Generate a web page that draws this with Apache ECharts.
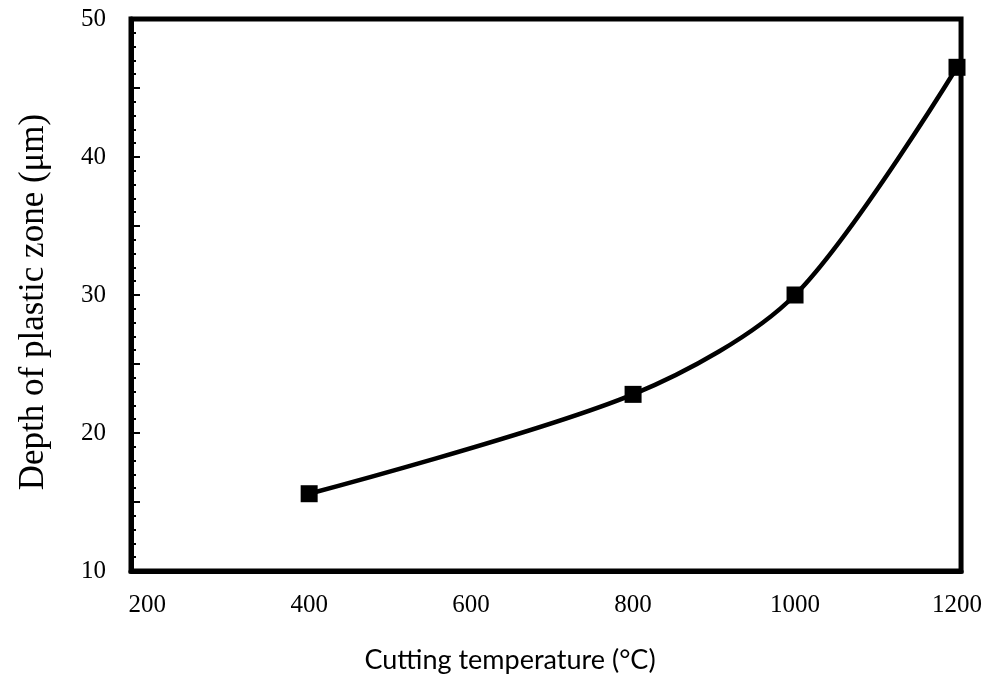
<!DOCTYPE html>
<html>
<head>
<meta charset="utf-8">
<script src="https://cdn.jsdelivr.net/npm/echarts@6/dist/echarts.min.js"></script>
<style>
  html, body { margin: 0; padding: 0; background: #fff; }
  #chart { width: 985px; height: 686px; }
</style>
</head>
<body>
<div id="chart"></div>
<script>
// cutting temperature (°C) vs depth of plastic zone (µm)
var temperatures = [400, 800, 1000, 1200];
var depths = [15.6, 22.8, 30.0, 46.5];
var xTickLabels = [200, 400, 600, 800, 1000, 1200];

var points = temperatures.map(function (t, i) {
    return [t, depths[i]];
});

var chart = echarts.init(document.getElementById('chart'));

chart.setOption({
    animation: false,
    backgroundColor: '#fff',
    grid: {
        left: 131,
        right: 23,
        top: 19,
        bottom: 115,
        show: true,
        borderColor: '#000',
        borderWidth: 5
    },
    xAxis: {
        type: 'value',
        min: 180,
        max: 1205,
        name: 'Cutting temperature (°C)',
        nameLocation: 'middle',
        nameGap: 76,
        nameTextStyle: {
            fontFamily: 'Lato',
            fontSize: 27,
            color: '#000',
            padding: [0, 72, 0, 0]
        },
        axisLine: { show: true, lineStyle: { color: '#000', width: 5 } },
        axisTick: { show: false },
        splitLine: { show: false },
        axisLabel: {
            customValues: xTickLabels,
            margin: 22,
            fontFamily: 'Liberation Serif',
            fontSize: 25,
            color: '#000',
            formatter: function (v) {
                return String(v);
            }
        }
    },
    yAxis: {
        type: 'value',
        min: 10,
        max: 50,
        interval: 5,
        name: 'Depth of plastic zone (μm)',
        nameLocation: 'middle',
        nameGap: 80,
        nameTextStyle: {
            fontFamily: 'Liberation Serif',
            fontSize: 35,
            color: '#000',
            padding: [0, 14, 0, 0]
        },
        axisLine: { show: true, lineStyle: { color: '#000', width: 5 } },
        axisTick: {
            show: true,
            inside: true,
            length: 9,
            lineStyle: { color: '#000', width: 2 }
        },
        minorTick: {
            show: true,
            splitNumber: 5,
            length: 5,
            lineStyle: { color: '#000', width: 2 }
        },
        splitLine: { show: false },
        axisLabel: {
            margin: 25,
            fontFamily: 'Liberation Serif',
            fontSize: 25,
            color: '#000',
            formatter: function (v) {
                return v % 10 === 0 ? String(v) : '';
            }
        }
    },
    series: [{
        type: 'line',
        data: points,
        smooth: 0.3,
        symbol: 'rect',
        symbolSize: 17,
        itemStyle: { color: '#000' },
        lineStyle: { color: '#000', width: 4.5 }
    }]
});
</script>
</body>
</html>
